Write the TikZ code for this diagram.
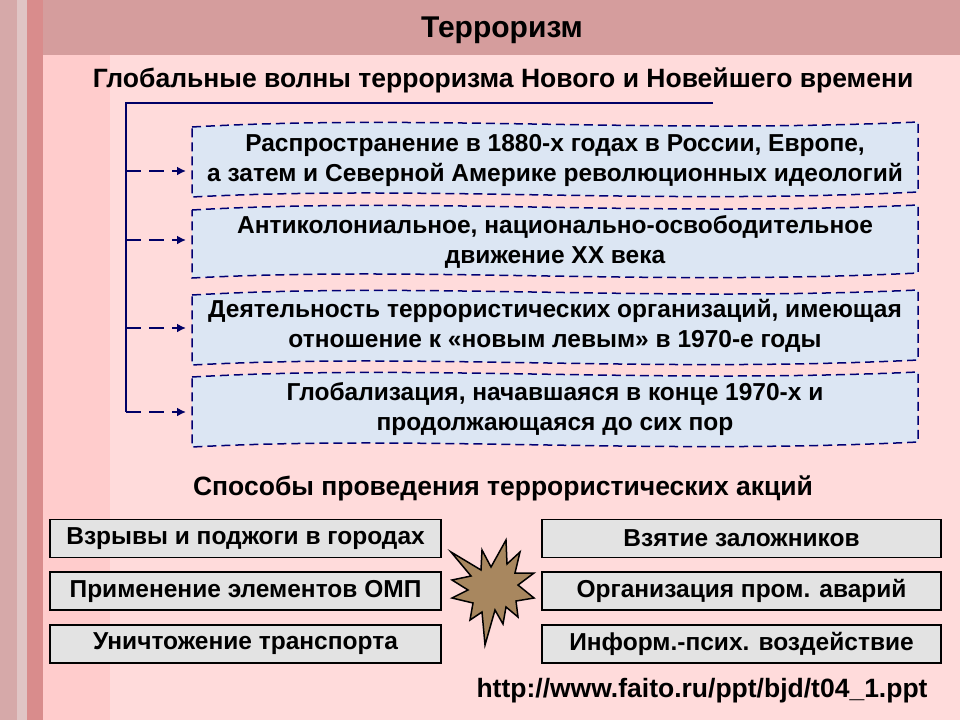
\documentclass[tikz,border=0pt]{standalone}
\usepackage{fontspec}
\usetikzlibrary{arrows.meta}
\setmainfont{Liberation Sans}
\begin{document}
\begin{tikzpicture}[x=1pt,y=-1pt,
  wave/.style={draw=blue!45!black,line width=1.5pt,fill={rgb,255:red,220;green,230;blue,243},dash pattern=on 9pt off 5pt},
  wtext/.style={font=\bfseries\fontsize{24.5}{30}\selectfont,align=center},
  gbox/.style={draw=black,line width=1.2pt,fill=gray!22,minimum width=391pt,minimum height=38pt,font=\bfseries\fontsize{24.5}{28}\selectfont,inner sep=0pt},
  arr/.style={draw=blue!40!black,line width=2.5pt,dash pattern=on 15pt off 8pt,-{Latex[length=9pt,width=9pt]}},
  br/.style={draw=blue!40!black,line width=2.5pt}]
\useasboundingbox (0,0) rectangle (960,720);
\fill[red!14!white] (0,0) rectangle (960,720);
\fill[red!35!gray!50!white] (0,0) rectangle (110,720);
\fill[red!30!gray!35!white] (17,0) rectangle (27,720);
\fill[red!50!gray!60!white] (27,0) rectangle (43,720);
\fill[red!20!white] (43,55) rectangle (110,720);
\fill[red!40!gray!55!white] (43,0) rectangle (960,55);
\node[font=\bfseries\fontsize{30}{34}\selectfont] (title) at (502,30) {Терроризм};
\node[font=\bfseries\fontsize{26.5}{30}\selectfont] (sub1) at (503,80) {Глобальные волны терроризма Нового и Новейшего времени};
\foreach \t/\b [count=\i] in {122/197,205/278,290/365,372/447}{
  \path[wave] (192,\t+5) .. controls (420,\t-8) and (650,\t+12) .. (918,\t) -- (918,\b-5) .. controls (650,\b+8) and (420,\b-12) .. (192,\b) -- cycle;
}
\node[wtext] (t1) at (555,160) {Распространение в 1880-х годах в России, Европе,\\а затем и Северной Америке революционных идеологий};
\node[wtext] (t2) at (555,242) {Антиколониальное, национально-освободительное\\движение XX века};
\node[wtext] (t3) at (555,326) {Деятельность террористических организаций, имеющая\\отношение к «новым левым» в 1970-е годы};
\node[wtext] (t4) at (555,409) {Глобализация, начавшаяся в конце 1970-х и\\продолжающаяся до сих пор};
\coordinate (top) at (126,103);
\coordinate (topr) at (713,103);
\coordinate (bot) at (126,412);
\draw[br] (topr) -- (top) -- (bot);
\foreach \y/\i in {171/1,240/2,328/3,412/4}{
  \coordinate (s\i) at (126,\y);
  \draw[arr] (s\i) -- (186,\y);
}
\node[font=\bfseries\fontsize{26.5}{30}\selectfont] (sub2) at (503,488) {Способы проведения террористических акций};
\node[gbox] (l1) at (245.5,538.5) {Взрывы и поджоги в городах};
\node[gbox] (l2) at (245.5,591) {Применение элементов ОМП};
\node[gbox] (l3) at (245.5,644) {Уничтожение транспорта};
\node[gbox,minimum width=399pt] (r1) at (741.5,538.5) {Взятие заложников};
\node[gbox,minimum width=399pt] (r2) at (741.5,591) {Организация пром. аварий};
\node[gbox,minimum width=399pt] (r3) at (741.5,644) {Информ.-псих. воздействие};
\draw[line width=1.5pt,fill={rgb,255:red,168;green,135;blue,95}] (506,540) -- (507,564) -- (520,552) -- (515,573) -- (534,573) -- (518,585) -- (534,598) -- (516,601) -- (518,617) -- (506,607) -- (503,624) -- (495,610) -- (485,645) -- (482,612) -- (470,620) -- (473,603) -- (452,598) -- (468,590) -- (452,580) -- (471,576) -- (451,552) -- (481,570) -- (482,550) -- (491,567) -- cycle;
\node[font=\bfseries\fontsize{26.5}{30}\selectfont] (url) at (702,691) {http://www.faito.ru/ppt/bjd/t04\_1.ppt};
\end{tikzpicture}
\end{document}
